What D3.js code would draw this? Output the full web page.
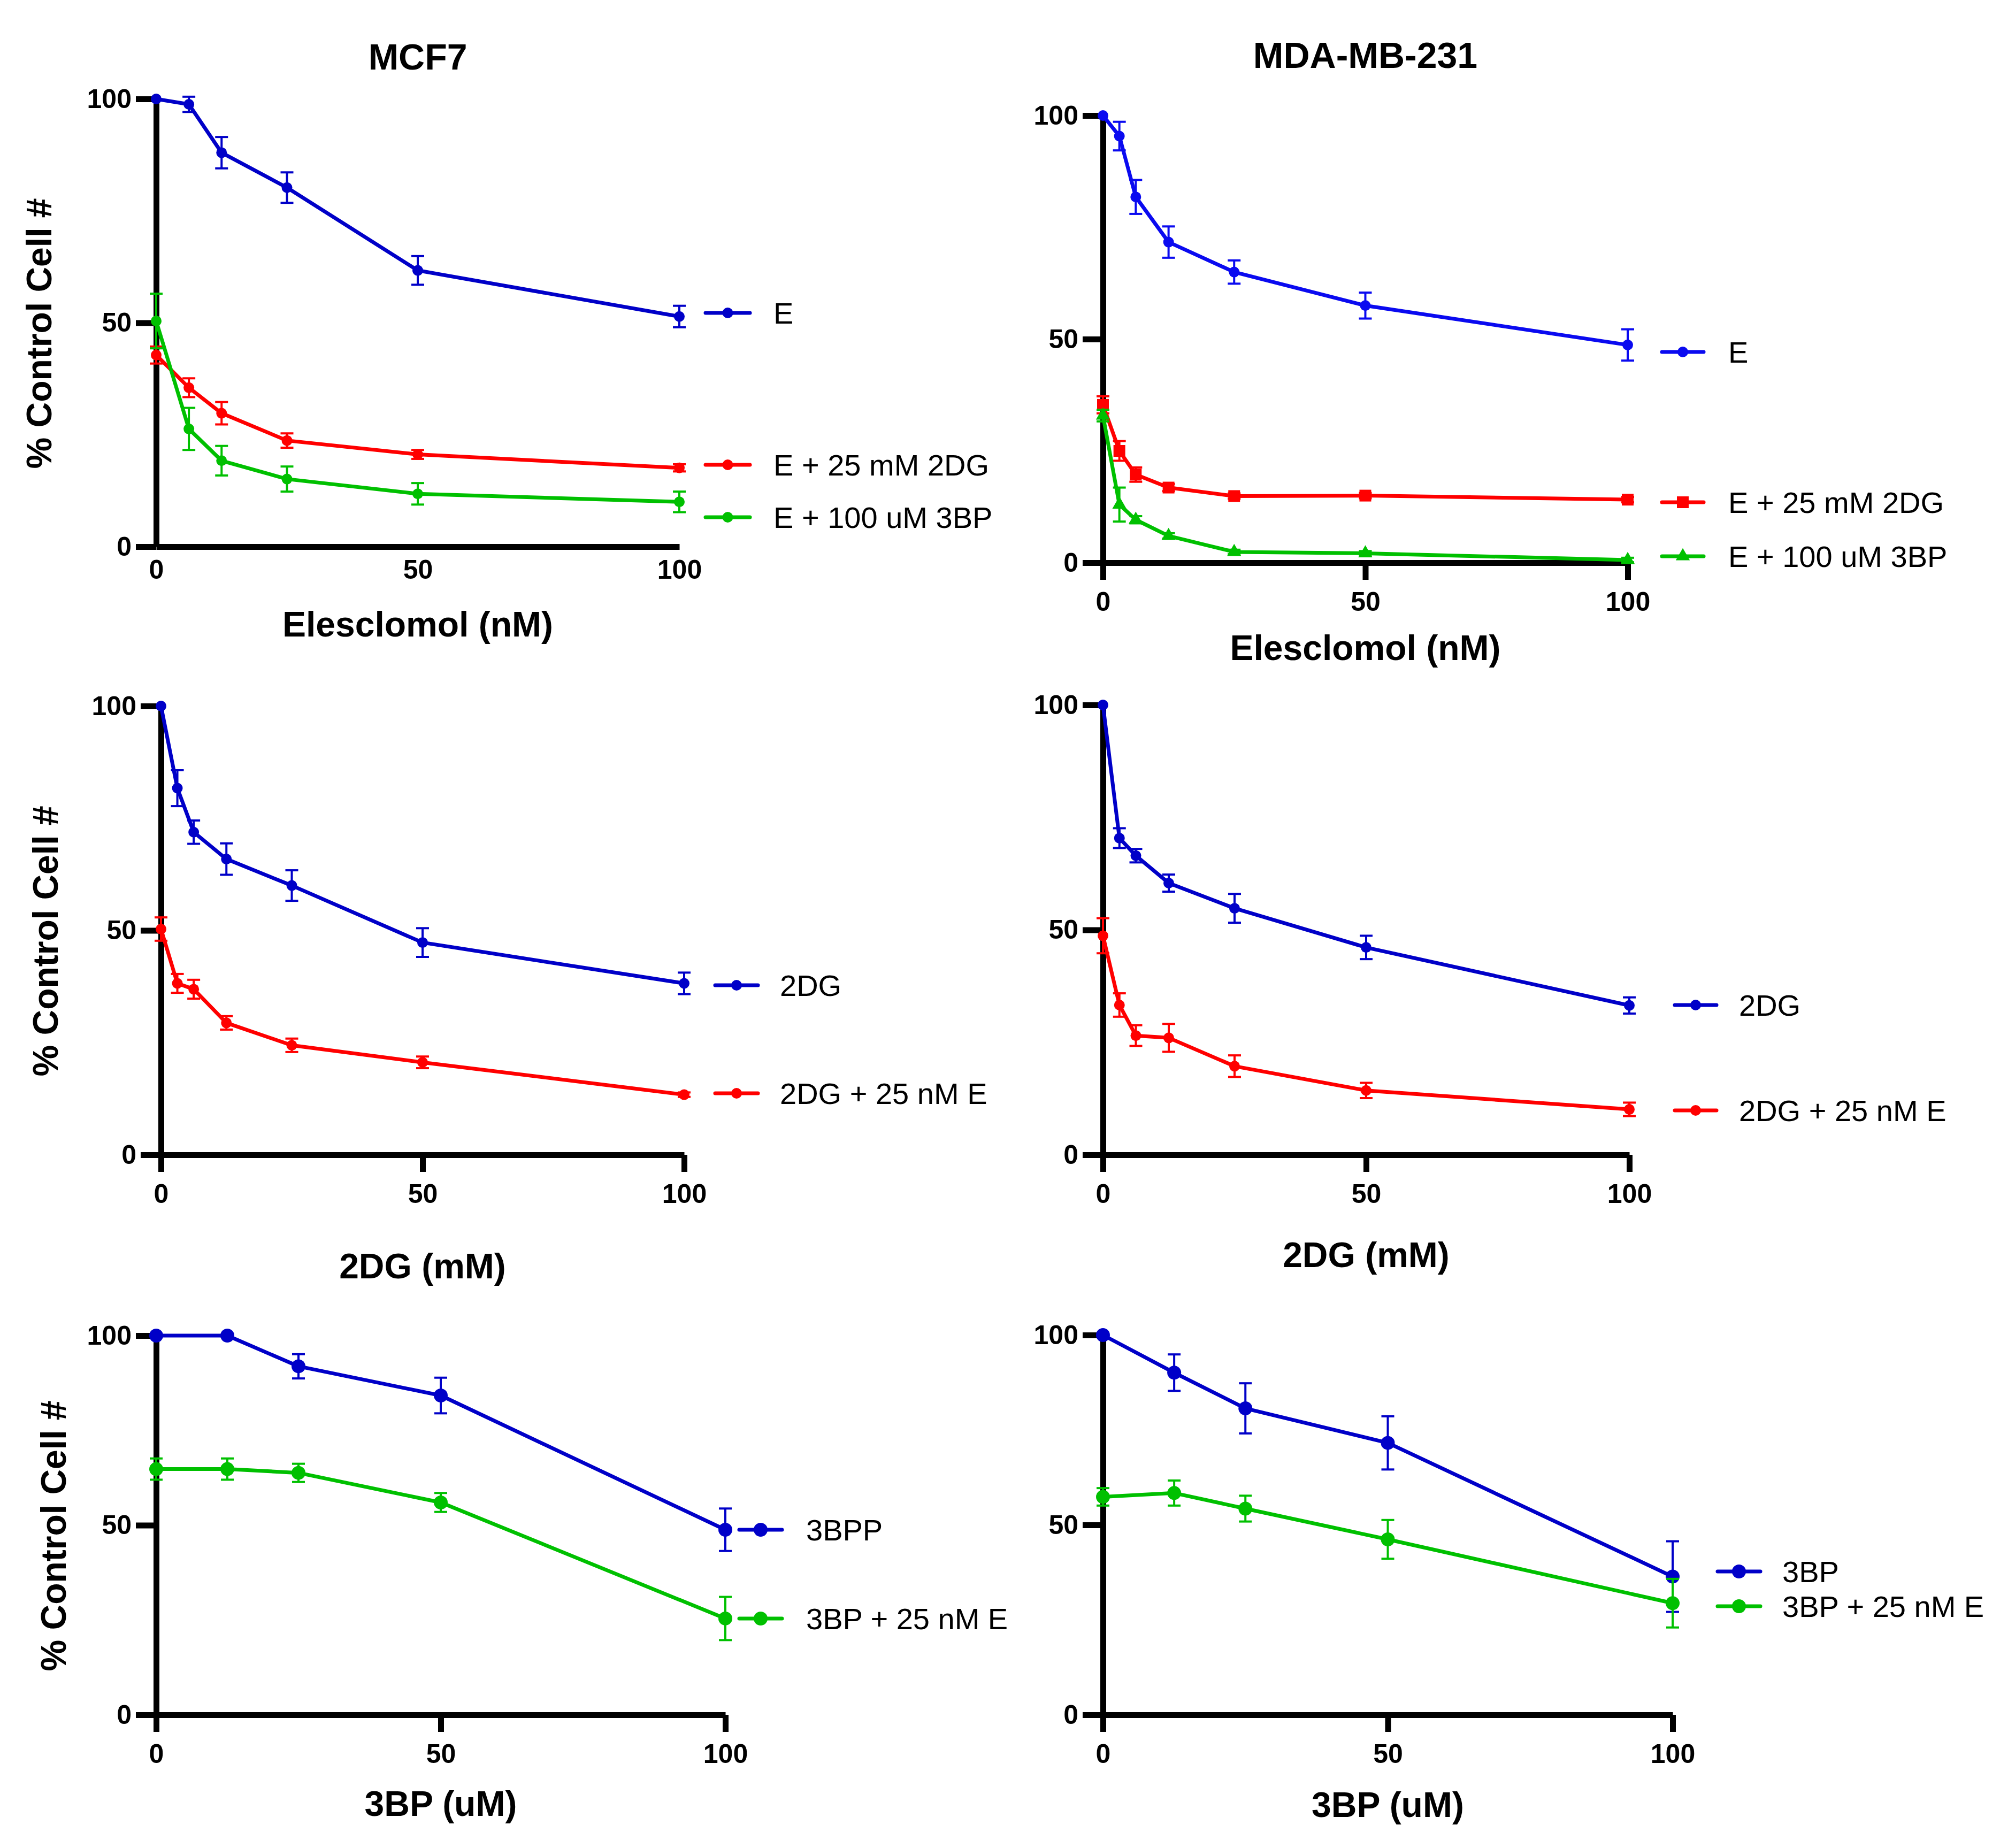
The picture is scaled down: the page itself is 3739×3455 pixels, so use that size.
<!DOCTYPE html>
<html>
<head>
<meta charset="utf-8">
<script src="https://cdn.jsdelivr.net/npm/d3@7"></script>
<style>
	body { margin: 0; background: #fff; }
	text { font-family: "Liberation Sans", Arial, sans-serif; }
</style>
</head>
<body>
<svg id="chart"></svg>
<script>
// concentrations (x values)
var xElesMcf = [0, 6.25, 12.5, 25, 50, 100];
var xElesMda = [0, 3.125, 6.25, 12.5, 25, 50, 100];
var x2dg = [0, 3.125, 6.25, 12.5, 25, 50, 100];
var x3bp = [0, 12.5, 25, 50, 100];

// MCF7 - elesclomol
var mcfE = [100, 98.8, 88.0, 80.2, 61.7, 51.4];
var mcfEErr = [0, 1.7, 3.5, 3.4, 3.2, 2.4];
var mcfE2dg = [42.8, 35.5, 29.8, 23.7, 20.6, 17.6];
var mcfE2dgErr = [1.9, 2.1, 2.5, 1.6, 1.0, 0.8];
var mcfE3bp = [50.4, 26.3, 19.2, 15.1, 11.8, 10.0];
var mcfE3bpErr = [6.1, 4.7, 3.3, 2.8, 2.4, 2.3];

// MDA-MB-231 - elesclomol
var mdaE = [100, 95.4, 81.8, 71.7, 65.0, 57.5, 48.7];
var mdaEErr = [0, 3.2, 3.8, 3.5, 2.6, 2.9, 3.5];
var mdaE2dg = [35.3, 25.0, 19.7, 16.8, 14.9, 15.0, 14.1];
var mdaE2dgErr = [1.9, 2.2, 1.6, 0.8, 0.6, 0.6, 0.6];
var mdaE3bp = [32.9, 13.0, 9.6, 6.0, 2.4, 2.1, 0.6];
var mdaE3bpErr = [1.3, 3.8, 0.8, 0.6, 0.5, 0.5, 0.5];

// 2DG
var mcf2dg = [100, 81.7, 71.9, 65.9, 60.0, 47.3, 38.2];
var mcf2dgErr = [0, 4.0, 2.6, 3.5, 3.4, 3.2, 2.4];
var mcf2dgE = [50.3, 38.2, 36.9, 29.4, 24.4, 20.6, 13.4];
var mcf2dgEErr = [2.6, 2.1, 2.1, 1.5, 1.5, 1.3, 0.5];
var mda2dg = [100, 70.4, 66.5, 60.4, 54.8, 46.1, 33.2];
var mda2dgErr = [0, 2.2, 1.5, 1.9, 3.2, 2.6, 1.8];
var mda2dgE = [48.7, 33.3, 26.5, 26.0, 19.7, 14.3, 10.1];
var mda2dgEErr = [3.9, 2.6, 2.3, 3.1, 2.4, 1.7, 1.5];

// 3BP
var mcf3bp = [100, 100, 91.9, 84.2, 48.8];
var mcf3bpErr = [0, 0, 3.2, 4.7, 5.6];
var mcf3bpE = [64.8, 64.8, 63.8, 56.0, 25.4];
var mcf3bpEErr = [2.8, 2.8, 2.4, 2.5, 5.7];
var mda3bp = [100, 90.1, 80.7, 71.6, 36.4];
var mda3bpErr = [0, 4.8, 6.6, 7.0, 9.3];
var mda3bpE = [57.4, 58.4, 54.3, 46.2, 29.4];
var mda3bpEErr = [2.3, 3.3, 3.4, 5.1, 6.4];

var yTicks = [0, 50, 100];
var xTicks = [0, 50, 100];
var titles = ["MCF7", "MDA-MB-231"];
var xTitles = ["Elesclomol (nM)", "2DG (mM)", "3BP (uM)"];
var yTitle = "% Control Cell #";

var colors = {
	"blue" : "#0000c8",
	"blue2" : "#0a0af0",
	"red" : "#ff0000",
	"green" : "#00c000"
};

var W = 3739, H = 3455;
var svg = d3.select("#chart").attr("width", W).attr("height", H);

function mk(x, v, e, color, label, shape) {
	return { x: x, v: v, e: e, color: color, label: label, shape: shape || "circle" };
}

var panels = [
	{ x0: 292, x1: 1270, y0: 1022, y1: 185, xTick: 0, r: 10, title: titles[0], titleY: 130,
	  xTitle: xTitles[0], xTitleY: 1190, yLabelX: 73,
	  legX: [1319, 1402, 1446], legY: [585, 869, 967],
	  series: [mk(xElesMcf, mcfE, mcfEErr, colors.blue, "E"),
	           mk(xElesMcf, mcfE2dg, mcfE2dgErr, colors.red, "E + 25 mM 2DG"),
	           mk(xElesMcf, mcfE3bp, mcfE3bpErr, colors.green, "E + 100 uM 3BP")] },
	{ x0: 2062, x1: 3043, y0: 1052, y1: 216, xTick: 32, r: 10, title: titles[1], titleY: 127,
	  xTitle: xTitles[0], xTitleY: 1234,
	  legX: [3107, 3185, 3231], legY: [658, 939, 1040],
	  series: [mk(xElesMda, mdaE, mdaEErr, colors.blue2, "E"),
	           mk(xElesMda, mdaE2dg, mdaE2dgErr, colors.red, "E + 25 mM 2DG", "square"),
	           mk(xElesMda, mdaE3bp, mdaE3bpErr, colors.green, "E + 100 uM 3BP", "triangle")] },
	{ x0: 301, x1: 1279, y0: 2159, y1: 1320, xTick: 32, r: 10,
	  xTitle: xTitles[1], xTitleY: 2390, yLabelX: 85,
	  legX: [1337, 1417, 1458], legY: [1842, 2044],
	  series: [mk(x2dg, mcf2dg, mcf2dgErr, colors.blue, "2DG"),
	           mk(x2dg, mcf2dgE, mcf2dgEErr, colors.red, "2DG + 25 nM E")] },
	{ x0: 2062, x1: 3046, y0: 2159, y1: 1318, xTick: 32, r: 10,
	  xTitle: xTitles[1], xTitleY: 2369,
	  legX: [3131, 3209, 3251], legY: [1879, 2076],
	  series: [mk(x2dg, mda2dg, mda2dgErr, colors.blue, "2DG"),
	           mk(x2dg, mda2dgE, mda2dgEErr, colors.red, "2DG + 25 nM E")] },
	{ x0: 292, x1: 1356, y0: 3206, y1: 2497, xTick: 32, r: 13,
	  xTitle: xTitles[2], xTitleY: 3395, yLabelX: 100,
	  legX: [1382, 1462, 1507], legY: [2860, 3026],
	  series: [mk(x3bp, mcf3bp, mcf3bpErr, colors.blue, "3BPP"),
	           mk(x3bp, mcf3bpE, mcf3bpEErr, colors.green, "3BP + 25 nM E")] },
	{ x0: 2062, x1: 3127, y0: 3206, y1: 2496, xTick: 32, r: 13,
	  xTitle: xTitles[2], xTitleY: 3397,
	  legX: [3211, 3291, 3332], legY: [2938, 3003],
	  series: [mk(x3bp, mda3bp, mda3bpErr, colors.blue, "3BP"),
	           mk(x3bp, mda3bpE, mda3bpEErr, colors.green, "3BP + 25 nM E")] }
];

function symbolPath(shape, r) {
	if (shape == "square") return d3.symbol(d3.symbolSquare, 484)();
	if (shape == "triangle") return d3.symbol(d3.symbolTriangle, 300)();
	return d3.symbol(d3.symbolCircle, Math.PI * r * r)();
}

panels.forEach(function(p) {
	var x = d3.scaleLinear().domain([0, 100]).range([p.x0, p.x1]);
	var y = d3.scaleLinear().domain([0, 100]).range([p.y0, p.y1]);
	var g = svg.append("g");

	// axes
	var gy = g.append("g")
		.attr("transform", "translate(" + p.x0 + ",0)")
		.call(d3.axisLeft(y).tickValues(yTicks).tickSize(38).tickSizeOuter(0).tickPadding(8));
	var gx = g.append("g")
		.attr("transform", "translate(0," + p.y0 + ")")
		.call(d3.axisBottom(x).tickValues(xTicks).tickSize(p.xTick).tickSizeOuter(0)
			.tickPadding(p.xTick ? 22 : 24));
	[gx, gy].forEach(function(a) {
		a.select(".domain").attr("stroke", "#000").attr("stroke-width", 11);
		a.selectAll(".tick line").attr("stroke", "#000").attr("stroke-width", 11);
		a.selectAll(".tick text")
			.attr("fill", "#000")
			.style("font-size", "50px")
			.style("font-weight", "bold");
	});

	// series
	p.series.forEach(function(s) {
		var pts = s.x.map(function(d, i) { return { x: d, v: s.v[i], e: s.e[i] }; });
		var line = d3.line().x(function(d) { return x(d.x); }).y(function(d) { return y(d.v); });
		var sg = g.append("g");
		sg.append("path")
			.attr("d", line(pts))
			.attr("fill", "none")
			.attr("stroke", s.color)
			.attr("stroke-width", 7)
			.attr("stroke-linejoin", "round");
		// error bars
		var eb = sg.selectAll(".err").data(pts.filter(function(d) { return d.e > 0; }))
			.enter().append("g").attr("stroke", s.color).attr("stroke-width", 4);
		eb.append("line")
			.attr("x1", function(d) { return x(d.x); })
			.attr("x2", function(d) { return x(d.x); })
			.attr("y1", function(d) { return y(d.v + d.e); })
			.attr("y2", function(d) { return y(d.v - d.e); });
		[1, -1].forEach(function(sign) {
			eb.append("line")
				.attr("x1", function(d) { return x(d.x) - 12; })
				.attr("x2", function(d) { return x(d.x) + 12; })
				.attr("y1", function(d) { return y(d.v + sign * d.e); })
				.attr("y2", function(d) { return y(d.v + sign * d.e); });
		});
		sg.selectAll(".pt").data(pts).enter().append("path")
			.attr("d", symbolPath(s.shape, p.r))
			.attr("transform", function(d) { return "translate(" + x(d.x) + "," + y(d.v) + ")"; })
			.attr("fill", s.color);
	});

	// legend
	p.series.forEach(function(s, i) {
		var ly = p.legY[i];
		g.append("line")
			.attr("x1", p.legX[0]).attr("x2", p.legX[1])
			.attr("y1", ly).attr("y2", ly)
			.attr("stroke", s.color).attr("stroke-width", 7)
			.attr("stroke-linecap", "round");
		g.append("path")
			.attr("d", symbolPath(s.shape, p.r))
			.attr("transform", "translate(" + ((p.legX[0] + p.legX[1]) / 2) + "," + ly + ")")
			.attr("fill", s.color);
		g.append("text")
			.attr("x", p.legX[2]).attr("y", ly)
			.attr("dy", "0.35em")
			.style("font-size", "56px")
			.text(s.label);
	});

	// titles
	if (p.title) {
		g.append("text")
			.attr("x", (p.x0 + p.x1) / 2).attr("y", p.titleY)
			.attr("text-anchor", "middle")
			.style("font-size", "68px").style("font-weight", "bold")
			.text(p.title);
	}
	g.append("text")
		.attr("x", (p.x0 + p.x1) / 2).attr("y", p.xTitleY)
		.attr("text-anchor", "middle")
		.style("font-size", "66px").style("font-weight", "bold")
		.text(p.xTitle);
	if (p.yLabelX) {
		g.append("text")
			.attr("transform", "translate(" + p.yLabelX + "," + ((p.y0 + p.y1) / 2 + 20) + ") rotate(-90)")
			.attr("text-anchor", "middle")
			.attr("dy", "0.35em")
			.style("font-size", "66px").style("font-weight", "bold")
			.text(yTitle);
	}
});
</script>
</body>
</html>
